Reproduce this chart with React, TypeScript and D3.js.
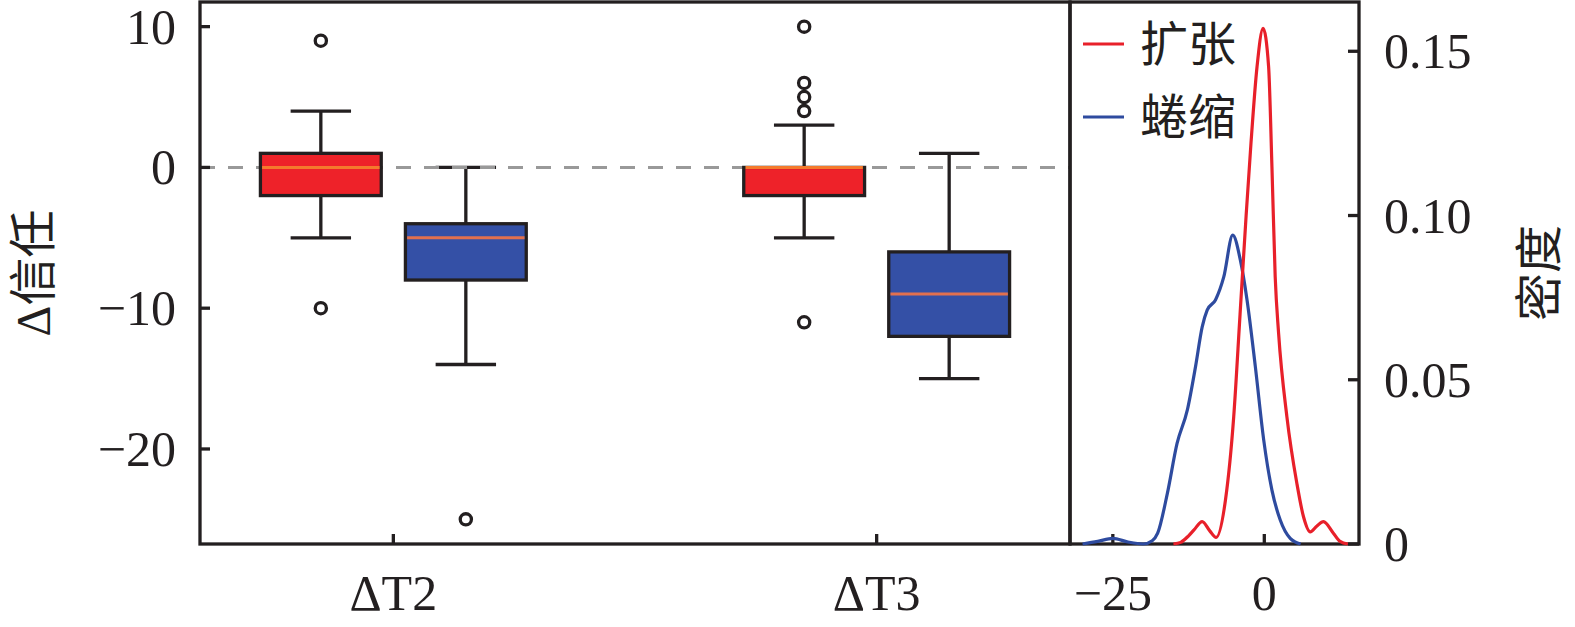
import React from 'react';
import * as d3 from 'd3';

// ---- Data ----
const categories = ['ΔT2', 'ΔT3'];
const groupNames = ['扩张', '蜷缩'];

// 扩张 (expand) box statistics per category
const expandLow = [-5, -5];
const expandQ1 = [-2, -2];
const expandMedian = [0, 0];
const expandQ3 = [1, 0];
const expandHigh = [4, 3];
const expandFliers = [[9, -10], [10, 6, 5, 4, -11]];

// 蜷缩 (shrink) box statistics per category
const shrinkLow = [-14, -15];
const shrinkQ1 = [-8, -12];
const shrinkMedian = [-5, -9];
const shrinkQ3 = [-4, -6];
const shrinkHigh = [0, 1];
const shrinkFliers = [[-25], []];

// density curves
const expandKdeX = [-15, -13.8, -12.5, -11.6, -10.25, -9, -7.95, -6.41, -5.05, -4.0, -3.0, -2.2, -1.2, -0.2, 0.71, 1.26, 1.8, 2.36, 3.73, 5.37, 6.47, 7.57, 8.7, 9.76, 11.4, 12.5, 13.8];
const expandKdeY = [0, 0.0005, 0.0025, 0.0043, 0.0068, 0.004, 0.002, 0.0134, 0.0387, 0.07, 0.1, 0.122, 0.1453, 0.157, 0.1453, 0.1148, 0.0813, 0.0641, 0.0387, 0.0185, 0.0083, 0.0037, 0.0055, 0.0068, 0.0033, 0.0008, 0];
const shrinkKdeX = [-30, -27.5, -25, -22.5, -20, -18.5, -17.6, -16.0, -14.4, -12.7, -11.35, -10.25, -9.43, -8.06, -6.69, -5.21, -3.95, -2.85, -1.48, -0.1, 1.26, 2.63, 4.28, 6.0];
const shrinkKdeY = [0, 0.0008, 0.0017, 0.0006, 0, 0.001, 0.0033, 0.0154, 0.0306, 0.0408, 0.054, 0.0661, 0.0712, 0.0743, 0.0813, 0.094, 0.0864, 0.0743, 0.054, 0.0317, 0.0164, 0.0073, 0.0017, 0];

const yTicks = [10, 0, -10, -20];
const densityTicks = [0, 0.05, 0.1, 0.15];
const densityTickLabels = ['0', '0.05', '0.10', '0.15'];
const kdeXTicks = [-25, 0];

// ---- Styles ----
const INK = '#231F20';
const RED = '#EE2229';
const BLUE = '#3450A6';
const LINE_RED = '#E8202A';
const LINE_BLUE = '#2E4B9F';
const MED_RED = '#F47A2C';
const MED_BLUE = '#E2704E';
const SERIF = '"Liberation Serif", "Times New Roman", "Noto Sans CJK SC", serif';
const CJK = '"Noto Sans CJK SC", "Liberation Serif", serif';

export default function App() {
  const W = 1575, H = 627;
  const L = 200, MID = 1070, R = 1359, T = 2, B = 544;

  const x = d3.scaleLinear().domain([-0.4, 1.4]).range([L, MID]);
  const y = d3.scaleLinear().domain([-26.75, 11.75]).range([B, T]);
  const kx = d3.scaleLinear().domain([-32.07, 15.63]).range([MID, R]);
  const ky = d3.scaleLinear().domain([0, 0.165]).range([B, T]);

  const offset = 0.15;
  const boxW = 0.25;
  const boxPx = x(boxW) - x(0);
  const capPx = boxPx / 2;

  const series = [
    { low: expandLow, q1: expandQ1, med: expandMedian, q3: expandQ3, high: expandHigh, fliers: expandFliers, fill: RED, medColor: MED_RED, off: -offset },
    { low: shrinkLow, q1: shrinkQ1, med: shrinkMedian, q3: shrinkQ3, high: shrinkHigh, fliers: shrinkFliers, fill: BLUE, medColor: MED_BLUE, off: offset },
  ];

  const line = d3.line<[number, number]>().x(d => kx(d[0])).y(d => ky(d[1])).curve(d3.curveMonotoneX);
  const expandPath = line(expandKdeX.map((v, i) => [v, expandKdeY[i]] as [number, number])) || '';
  const shrinkPath = line(shrinkKdeX.map((v, i) => [v, shrinkKdeY[i]] as [number, number])) || '';

  const lw = 3.3;
  const fs = 50;

  return (
    <svg width={W} height={H} style={{ position: 'absolute', left: 0, top: 0, background: '#fff' }}>
      <rect x={0} y={0} width={W} height={H} fill="#fff" />

      {/* whiskers and caps */}
      {categories.map((c, ci) =>
        series.map((s, si) => {
          const cx = x(ci + s.off);
          return (
            <g key={`w-${ci}-${si}`} stroke={INK} strokeWidth={lw}>
              <line x1={cx} x2={cx} y1={y(s.q3[ci])} y2={y(s.high[ci])} />
              <line x1={cx} x2={cx} y1={y(s.q1[ci])} y2={y(s.low[ci])} />
              <line x1={cx - capPx / 2} x2={cx + capPx / 2} y1={y(s.high[ci])} y2={y(s.high[ci])} />
              <line x1={cx - capPx / 2} x2={cx + capPx / 2} y1={y(s.low[ci])} y2={y(s.low[ci])} />
            </g>
          );
        })
      )}

      {/* zero reference line */}
      <line x1={L} x2={MID} y1={y(0)} y2={y(0)} stroke="#999999" strokeWidth={3} strokeDasharray="15 13" />

      {/* boxes, medians, fliers */}
      {categories.map((c, ci) =>
        series.map((s, si) => {
          const cx = x(ci + s.off);
          const top = y(s.q3[ci]);
          const bot = y(s.q1[ci]);
          return (
            <g key={`b-${ci}-${si}`}>
              <rect x={cx - boxPx / 2} y={top} width={boxPx} height={bot - top} fill={s.fill} stroke={INK} strokeWidth={lw} />
              <line x1={cx - boxPx / 2 + 1.7} x2={cx + boxPx / 2 - 1.7} y1={y(s.med[ci])} y2={y(s.med[ci])} stroke={s.medColor} strokeWidth={3} />
              {s.fliers[ci].map((f, fi) => (
                <circle key={fi} cx={cx} cy={y(f)} r={5.6} fill="none" stroke={INK} strokeWidth={3.3} />
              ))}
            </g>
          );
        })
      )}

      {/* left y ticks */}
      {yTicks.map(t => (
        <g key={`yt${t}`}>
          <line x1={L} x2={L + 10} y1={y(t)} y2={y(t)} stroke={INK} strokeWidth={lw} />
          <text x={L - 24} y={y(t)} dy="0.34em" textAnchor="end" fontFamily={SERIF} fontSize={fs} fill={INK}>
            {t < 0 ? `\u2212${Math.abs(t)}` : `${t}`}
          </text>
        </g>
      ))}

      {/* category ticks */}
      {categories.map((c, ci) => (
        <g key={`xt${ci}`}>
          <line x1={x(ci)} x2={x(ci)} y1={B} y2={B - 10} stroke={INK} strokeWidth={lw} />
          <text x={x(ci)} y={610} textAnchor="middle" fontFamily={SERIF} fontSize={fs} fill={INK}>{c}</text>
        </g>
      ))}

      {/* left y label */}
      <text transform={`translate(50, ${(T + B) / 2}) rotate(-90)`} textAnchor="middle" fontFamily={SERIF} fontSize={48} fill={INK}>Δ信任</text>

      {/* right panel density ticks */}
      {densityTicks.map((t, i) => (
        <g key={`dt${i}`}>
          <line x1={R} x2={R - 11} y1={ky(t)} y2={ky(t)} stroke={INK} strokeWidth={lw} />
          <text x={R + 25} y={ky(t)} dy="0.34em" textAnchor="start" fontFamily={SERIF} fontSize={fs} fill={INK}>{densityTickLabels[i]}</text>
        </g>
      ))}

      {kdeXTicks.map(t => (
        <g key={`kt${t}`}>
          <line x1={kx(t)} x2={kx(t)} y1={B} y2={B - 10} stroke={INK} strokeWidth={lw} />
          <text x={kx(t)} y={610} textAnchor="middle" fontFamily={SERIF} fontSize={fs} fill={INK}>
            {t < 0 ? `\u2212${Math.abs(t)}` : `${t}`}
          </text>
        </g>
      ))}

      <text transform={`translate(1556, ${(T + B) / 2}) rotate(-90)`} textAnchor="middle" fontFamily={CJK} fontSize={48} fill={INK}>密度</text>

      {/* spines */}
      <rect x={L} y={T} width={MID - L} height={B - T} fill="none" stroke={INK} strokeWidth={lw} />
      <rect x={MID} y={T} width={R - MID} height={B - T} fill="none" stroke={INK} strokeWidth={lw} />

      {/* density curves */}
      <path d={shrinkPath} fill="none" stroke={LINE_BLUE} strokeWidth={3.2} />
      <path d={expandPath} fill="none" stroke={LINE_RED} strokeWidth={3.2} />

      {/* legend */}
      <line x1={1083} x2={1124} y1={44} y2={44} stroke={LINE_RED} strokeWidth={3} />
      <text x={1140} y={44} dy="0.36em" fontFamily={CJK} fontSize={48} fill={INK}>{groupNames[0]}</text>
      <line x1={1083} x2={1124} y1={117} y2={117} stroke={LINE_BLUE} strokeWidth={3} />
      <text x={1140} y={117} dy="0.36em" fontFamily={CJK} fontSize={48} fill={INK}>{groupNames[1]}</text>
    </svg>
  );
}
